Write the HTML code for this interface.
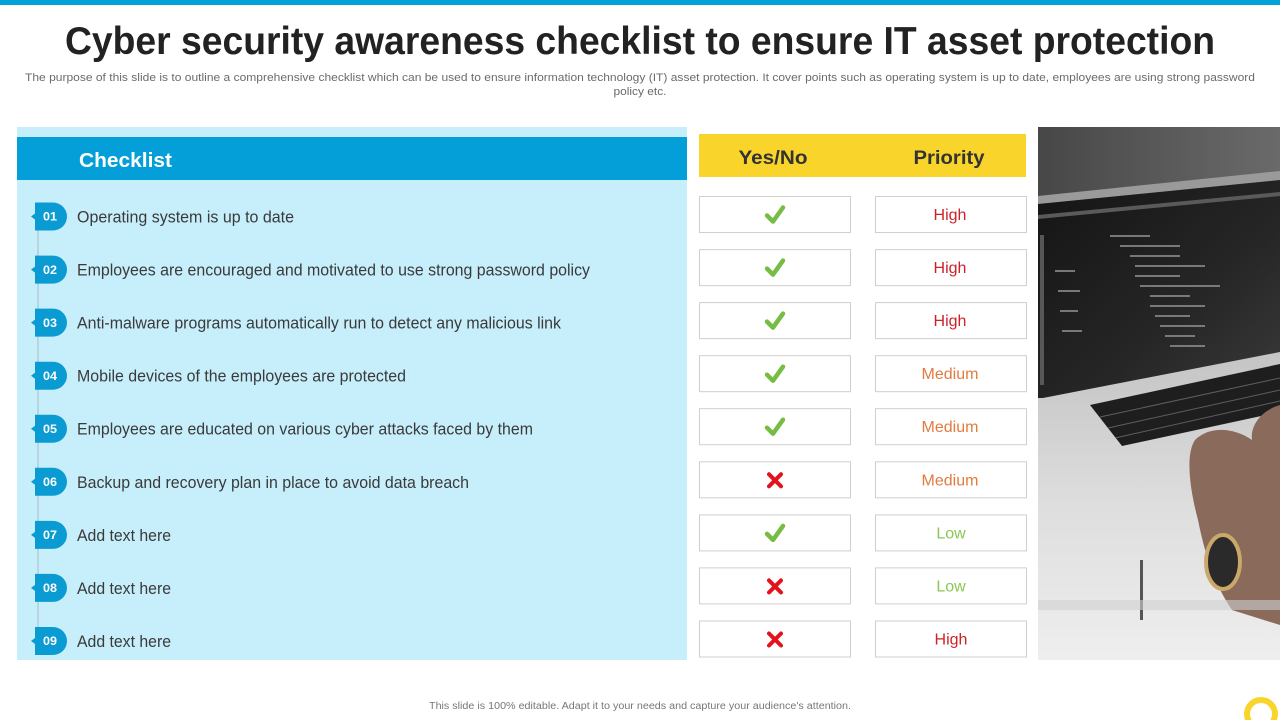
<!DOCTYPE html>
<html><head><meta charset="utf-8"><style>
html,body{margin:0;padding:0;background:#fff;}
svg{display:block;}
text{font-family:"Liberation Sans",Arial,sans-serif;}
</style></head><body>
<svg width="1280" height="720" viewBox="0 0 1280 720" xmlns="http://www.w3.org/2000/svg">
<defs>
<linearGradient id="bg" x1="0" y1="0" x2="1" y2="0"><stop offset="0" stop-color="#474747"/><stop offset="1" stop-color="#6a6a6a"/></linearGradient>
<linearGradient id="body" x1="0" y1="0" x2="0" y2="1"><stop offset="0" stop-color="#c4c4c4"/><stop offset="0.5" stop-color="#dedede"/><stop offset="1" stop-color="#eeeeee"/></linearGradient>
<linearGradient id="scr" x1="0" y1="0" x2="1" y2="1"><stop offset="0" stop-color="#141414"/><stop offset="0.6" stop-color="#262626"/><stop offset="1" stop-color="#3a3a3a"/></linearGradient>
<clipPath id="ph"><rect x="1038" y="127" width="242" height="533"/></clipPath>
</defs>
<rect x="0" y="0" width="1280" height="5" fill="#02A3DB"/>
<text x="640" y="54" text-anchor="middle" font-size="39" font-weight="bold" fill="#222" textLength="1150" lengthAdjust="spacingAndGlyphs">Cyber security awareness checklist to ensure IT asset protection</text>
<text x="640" y="81" text-anchor="middle" font-size="11" fill="#6b6b6b" textLength="1230" lengthAdjust="spacingAndGlyphs">The purpose of this slide is to outline a comprehensive checklist which can be used to ensure information technology (IT) asset protection. It cover points such as operating system is up to date, employees are using strong password</text>
<text x="640" y="95" text-anchor="middle" font-size="11" fill="#6b6b6b" textLength="53" lengthAdjust="spacingAndGlyphs">policy etc.</text>

<rect x="17" y="127" width="670" height="533" fill="#C7EEFB"/>
<rect x="17" y="137" width="670" height="43" fill="#049FD9"/>
<text x="79" y="167" font-size="20" font-weight="bold" fill="#fff" textLength="93" lengthAdjust="spacingAndGlyphs">Checklist</text>
<line x1="38" y1="228" x2="38" y2="650" stroke="#a9b9c0" stroke-width="1"/>

<rect x="699" y="134" width="327" height="43" fill="#F9D52C"/>
<text x="773" y="164" text-anchor="middle" font-size="19" font-weight="bold" fill="#333" textLength="69" lengthAdjust="spacingAndGlyphs">Yes/No</text>
<text x="949" y="164" text-anchor="middle" font-size="19" font-weight="bold" fill="#333" textLength="71" lengthAdjust="spacingAndGlyphs">Priority</text>

<g id="rows">
<!-- row template repeated -->
</g>

<!-- rows -->
<g font-size="17" fill="#3a3a3a">
<text x="77" y="222.5" textLength="217" lengthAdjust="spacingAndGlyphs">Operating system  is up to date</text>
<text x="77" y="275.6" textLength="513" lengthAdjust="spacingAndGlyphs">Employees are encouraged and motivated to use strong password policy</text>
<text x="77" y="328.6" textLength="484" lengthAdjust="spacingAndGlyphs">Anti-malware programs automatically run to detect any malicious link</text>
<text x="77" y="381.7" textLength="329" lengthAdjust="spacingAndGlyphs">Mobile devices of the employees are protected</text>
<text x="77" y="434.7" textLength="456" lengthAdjust="spacingAndGlyphs">Employees are educated on various cyber attacks faced by them</text>
<text x="77" y="487.8" textLength="392" lengthAdjust="spacingAndGlyphs">Backup and recovery plan in place to avoid data breach</text>
<text x="77" y="540.9" textLength="94" lengthAdjust="spacingAndGlyphs">Add text here</text>
<text x="77" y="593.9" textLength="94" lengthAdjust="spacingAndGlyphs">Add text here</text>
<text x="77" y="647" textLength="94" lengthAdjust="spacingAndGlyphs">Add text here</text>
</g>

<g fill="#0B9BD3">
<path d="M35,202.5 H53 A14,14 0 0 1 53,230.5 H35 Z M35,213.5 L31,216.5 L35,219.5 Z"/>
<path d="M35,255.6 H53 A14,14 0 0 1 53,283.6 H35 Z M35,266.6 L31,269.6 L35,272.6 Z"/>
<path d="M35,308.6 H53 A14,14 0 0 1 53,336.6 H35 Z M35,319.6 L31,322.6 L35,325.6 Z"/>
<path d="M35,361.7 H53 A14,14 0 0 1 53,389.7 H35 Z M35,372.7 L31,375.7 L35,378.7 Z"/>
<path d="M35,414.7 H53 A14,14 0 0 1 53,442.7 H35 Z M35,425.7 L31,428.7 L35,431.7 Z"/>
<path d="M35,467.8 H53 A14,14 0 0 1 53,495.8 H35 Z M35,478.8 L31,481.8 L35,484.8 Z"/>
<path d="M35,520.9 H53 A14,14 0 0 1 53,548.9 H35 Z M35,531.9 L31,534.9 L35,537.9 Z"/>
<path d="M35,573.9 H53 A14,14 0 0 1 53,601.9 H35 Z M35,584.9 L31,587.9 L35,590.9 Z"/>
<path d="M35,627 H53 A14,14 0 0 1 53,655 H35 Z M35,638 L31,641 L35,644 Z"/>
</g>
<g font-size="12" font-weight="bold" fill="#fff" text-anchor="middle">
<text x="50" y="220.7" textLength="14" lengthAdjust="spacingAndGlyphs">01</text>
<text x="50" y="273.8" textLength="14" lengthAdjust="spacingAndGlyphs">02</text>
<text x="50" y="326.8" textLength="14" lengthAdjust="spacingAndGlyphs">03</text>
<text x="50" y="379.9" textLength="14" lengthAdjust="spacingAndGlyphs">04</text>
<text x="50" y="432.9" textLength="14" lengthAdjust="spacingAndGlyphs">05</text>
<text x="50" y="486" textLength="14" lengthAdjust="spacingAndGlyphs">06</text>
<text x="50" y="539.1" textLength="14" lengthAdjust="spacingAndGlyphs">07</text>
<text x="50" y="592.1" textLength="14" lengthAdjust="spacingAndGlyphs">08</text>
<text x="50" y="645.2" textLength="14" lengthAdjust="spacingAndGlyphs">09</text>
</g>

<g fill="#fff" stroke="#cfcfcf" stroke-width="1">
<rect x="699.5" y="196.5" width="151" height="36"/><rect x="875.5" y="196.5" width="151" height="36"/>
<rect x="699.5" y="249.6" width="151" height="36"/><rect x="875.5" y="249.6" width="151" height="36"/>
<rect x="699.5" y="302.6" width="151" height="36"/><rect x="875.5" y="302.6" width="151" height="36"/>
<rect x="699.5" y="355.7" width="151" height="36"/><rect x="875.5" y="355.7" width="151" height="36"/>
<rect x="699.5" y="408.7" width="151" height="36"/><rect x="875.5" y="408.7" width="151" height="36"/>
<rect x="699.5" y="461.8" width="151" height="36"/><rect x="875.5" y="461.8" width="151" height="36"/>
<rect x="699.5" y="514.9" width="151" height="36"/><rect x="875.5" y="514.9" width="151" height="36"/>
<rect x="699.5" y="567.9" width="151" height="36"/><rect x="875.5" y="567.9" width="151" height="36"/>
<rect x="699.5" y="621" width="151" height="36"/><rect x="875.5" y="621" width="151" height="36"/>
</g>

<g fill="none" stroke="#77BD45" stroke-width="4.5" stroke-linecap="round" stroke-linejoin="round">
<polyline points="767,215.5 773,221.5 783,207.5"/>
<polyline points="767,268.6 773,274.6 783,260.6"/>
<polyline points="767,321.6 773,327.6 783,313.6"/>
<polyline points="767,374.7 773,380.7 783,366.7"/>
<polyline points="767,427.7 773,433.7 783,419.7"/>
<polyline points="767,533.9 773,539.9 783,525.9"/>
</g>
<g stroke="#E3121C" stroke-width="4" stroke-linecap="round">
<path d="M769,474.3 L781,486.3 M781,474.3 L769,486.3"/>
<path d="M769,580.4 L781,592.4 M781,580.4 L769,592.4"/>
<path d="M769,633.5 L781,645.5 M781,633.5 L769,645.5"/>
</g>

<g font-size="16" text-anchor="middle">
<text x="950" y="220" fill="#CC2229">High</text>
<text x="950" y="273.1" fill="#CC2229">High</text>
<text x="950" y="326.1" fill="#CC2229">High</text>
<text x="950" y="379.2" fill="#E27B3E">Medium</text>
<text x="950" y="432.2" fill="#E27B3E">Medium</text>
<text x="950" y="485.3" fill="#E27B3E">Medium</text>
<text x="951" y="538.4" fill="#8DC652">Low</text>
<text x="951" y="591.4" fill="#8DC652">Low</text>
<text x="951" y="644.5" fill="#CC2229">High</text>
</g>

<!-- photo -->
<g clip-path="url(#ph)">
<rect x="1038" y="127" width="242" height="533" fill="url(#bg)"/>
<polygon points="1038,196 1280,171 1280,181 1038,206" fill="#9a9a9a"/>
<polygon points="1038,204 1280,180 1280,352 1043,398 1038,398" fill="url(#scr)"/>
<polygon points="1038,215 1280,192 1280,196 1038,219" fill="#5a5a5a"/>
<g fill="#8f8f8f" opacity="0.8">
<rect x="1040" y="235" width="4" height="150" fill="#666"/>
<rect x="1110" y="235" width="40" height="2"/><rect x="1120" y="245" width="60" height="2"/>
<rect x="1130" y="255" width="50" height="2"/><rect x="1135" y="265" width="70" height="2"/>
<rect x="1135" y="275" width="45" height="2"/><rect x="1140" y="285" width="80" height="2"/>
<rect x="1150" y="295" width="40" height="2"/><rect x="1150" y="305" width="55" height="2"/>
<rect x="1155" y="315" width="35" height="2"/><rect x="1160" y="325" width="45" height="2"/>
<rect x="1165" y="335" width="30" height="2"/><rect x="1170" y="345" width="35" height="2"/>
<rect x="1055" y="270" width="20" height="2"/><rect x="1058" y="290" width="22" height="2"/>
<rect x="1060" y="310" width="18" height="2"/><rect x="1062" y="330" width="20" height="2"/>
</g>
<polygon points="1038,398 1043,398 1280,352 1280,660 1038,660" fill="url(#body)"/>
<polygon points="1090,405 1280,364 1280,412 1122,446" fill="#1e1e1e"/>
<g stroke="#8a8a8a" stroke-width="1" opacity="0.6">
<line x1="1100" y1="417" x2="1280" y2="378"/><line x1="1108" y1="428" x2="1280" y2="390"/><line x1="1115" y1="438" x2="1280" y2="401"/>
</g>
<path d="M1280,405 C1262,410 1250,425 1252,440 C1235,428 1210,425 1195,440 C1185,455 1190,490 1198,520 C1205,555 1215,585 1232,610 L1280,625 Z" fill="#8a6a5a"/>
<ellipse cx="1223" cy="562" rx="17" ry="27" fill="#2a2a2a" stroke="#c9a86a" stroke-width="4"/>
<rect x="1140" y="560" width="3" height="60" fill="#555"/>
<rect x="1038" y="600" width="242" height="10" fill="#d0d0d0" opacity="0.6"/>
</g>

<text x="640" y="709" text-anchor="middle" font-size="10" fill="#777" textLength="422" lengthAdjust="spacingAndGlyphs">This slide is 100% editable.  Adapt it to your needs and capture your audience's attention.</text>
<circle cx="1261" cy="714" r="14" fill="none" stroke="#F9D52C" stroke-width="6"/>
</svg>
</body></html>
